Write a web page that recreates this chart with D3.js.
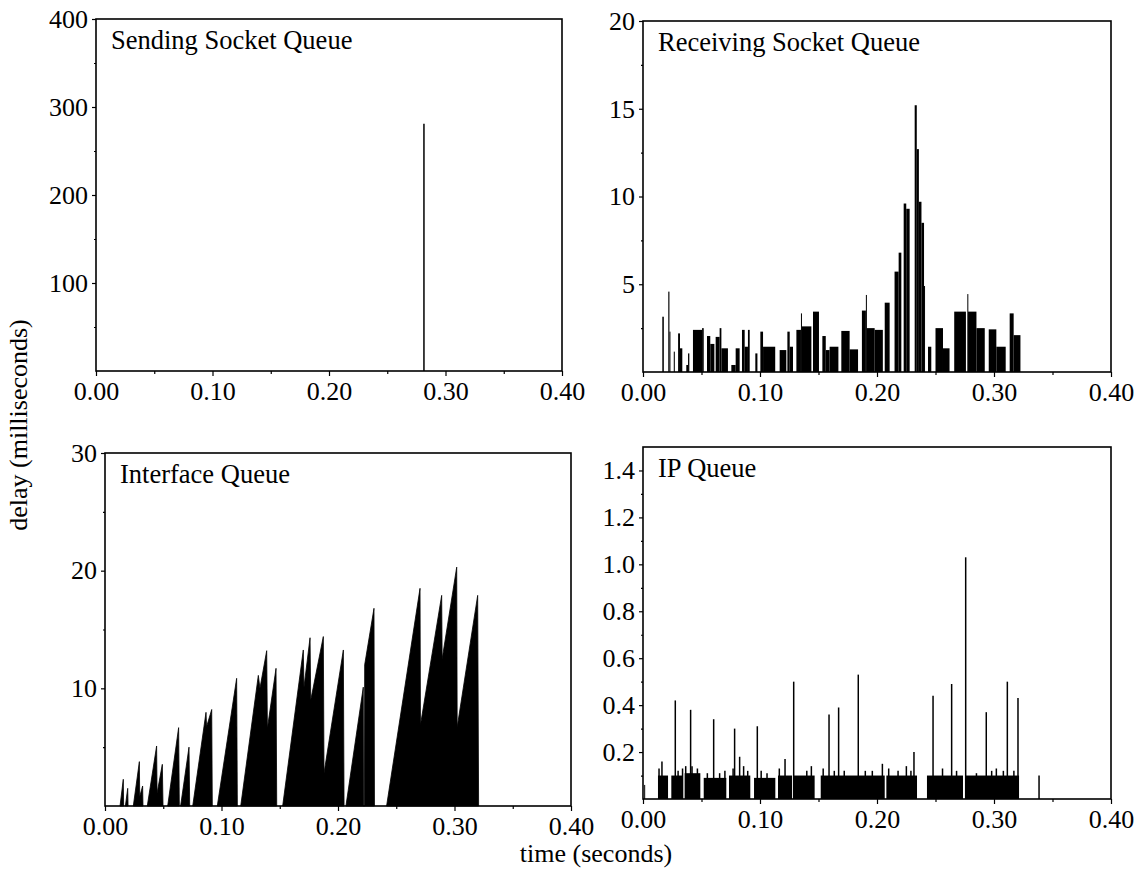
<!DOCTYPE html>
<html>
<head>
<meta charset="utf-8">
<script src="https://cdn.jsdelivr.net/npm/d3@7"></script>
<style>
  body { margin: 0; background: #fff; }
  svg { display: block; }
</style>
</head>
<body>
<svg id="chart" width="1138" height="869"></svg>
<script>
// shared x axis (seconds)
const xTicks = [0, 0.1, 0.2, 0.3, 0.4];
const xMinorTicks = [0.05, 0.15, 0.25, 0.35];

// y ticks per panel
const sendTicks = [100, 200, 300, 400];
const sendMinor = [50, 150, 250, 350];
const recvTicks = [5, 10, 15, 20];
const recvMinor = [2.5, 7.5, 12.5, 17.5];
const ifaceTicks = [10, 20, 30];
const ifaceMinor = [5, 15, 25];
const ipTicks = [0.2, 0.4, 0.6, 0.8, 1.0, 1.2, 1.4];
const ipMinor = [0.1, 0.3, 0.5, 0.7, 0.9, 1.1, 1.3];

// sending socket queue: [time, delay]
const sendSpikes = [[0.2815, 281]];

// receiving socket queue: [t start, t end, delay]
const recvBars = [
  [0.0165, 0.0178, 3.15], [0.0216, 0.0226, 4.58], [0.0226, 0.0232, 2.3],
  [0.0263, 0.0272, 1.16], [0.0300, 0.0316, 2.2], [0.0316, 0.0336, 1.35],
  [0.0370, 0.0385, 0.4], [0.0385, 0.0396, 1.06], [0.0427, 0.0505, 2.4],
  [0.0505, 0.0519, 2.5], [0.0547, 0.0575, 2.05], [0.0575, 0.0610, 1.6],
  [0.0621, 0.0655, 2.0], [0.0655, 0.0670, 2.5], [0.0670, 0.0726, 1.35],
  [0.0755, 0.0792, 0.4], [0.0792, 0.0826, 1.35], [0.0846, 0.0869, 2.4],
  [0.0869, 0.0897, 1.44], [0.0897, 0.0912, 2.4], [0.0960, 0.0978, 1.06],
  [0.1003, 0.1026, 2.3], [0.1026, 0.1130, 1.44], [0.1168, 0.1225, 1.25],
  [0.1234, 0.1254, 2.3], [0.1254, 0.1282, 1.44], [0.1311, 0.1350, 2.4],
  [0.1350, 0.1358, 3.34], [0.1358, 0.1439, 2.6], [0.1453, 0.1504, 3.44],
  [0.1533, 0.1562, 2.05], [0.1562, 0.1595, 1.25], [0.1595, 0.1670, 1.44],
  [0.1695, 0.1766, 2.34], [0.1766, 0.1838, 1.29], [0.1871, 0.1905, 3.5],
  [0.1905, 0.1912, 4.39], [0.1912, 0.1980, 2.5], [0.1980, 0.2050, 2.4],
  [0.2066, 0.2108, 3.95], [0.2150, 0.2185, 5.72], [0.2185, 0.2208, 6.8],
  [0.2228, 0.2250, 9.6], [0.2250, 0.2279, 9.3], [0.2322, 0.2340, 15.2],
  [0.2340, 0.2358, 12.7], [0.2358, 0.2380, 9.7], [0.2380, 0.2402, 8.5],
  [0.2402, 0.2410, 4.9], [0.2436, 0.2464, 1.44], [0.2500, 0.2564, 2.5],
  [0.2564, 0.2620, 1.35], [0.2660, 0.2760, 3.44], [0.2772, 0.2778, 4.44],
  [0.2778, 0.2850, 3.44], [0.2850, 0.2921, 2.5], [0.2955, 0.3020, 2.43],
  [0.3020, 0.3100, 1.44], [0.3134, 0.3168, 3.34], [0.3168, 0.3226, 2.1]
];

// interface queue: outline of each sawtooth burst, [time, delay]
const ifaceBursts = [
  [[0.0129, 0], [0.0157, 2.27], [0.0160, 0]],
  [[0.0175, 0], [0.0195, 1.5], [0.0198, 0]],
  [[0.0243, 0], [0.0295, 3.77], [0.0298, 0.8], [0.0323, 1.7], [0.0326, 0]],
  [[0.0363, 0], [0.0443, 5.1], [0.0447, 1.08], [0.0492, 3.54], [0.0498, 0]],
  [[0.0538, 0], [0.0632, 6.66], [0.0638, 0]],
  [[0.0649, 0], [0.0721, 5.0], [0.0727, 0]],
  [[0.0753, 0], [0.0867, 7.96], [0.0872, 6.74], [0.0916, 8.2], [0.0921, 0]],
  [[0.0964, 0], [0.1130, 10.85], [0.1136, 0]],
  [[0.1165, 0], [0.1316, 11.1], [0.1330, 10.0], [0.1388, 13.2], [0.1394, 6.6], [0.1468, 11.7], [0.1474, 0]],
  [[0.1525, 0], [0.1702, 13.26], [0.1708, 10.1], [0.1760, 14.3], [0.1766, 9.0], [0.1874, 14.4], [0.1880, 2.8], [0.2046, 13.26], [0.2052, 0]],
  [[0.2068, 0], [0.2217, 10.1], [0.2219, 0], [0.2227, 0], [0.2229, 12.0], [0.2309, 16.8], [0.2313, 0]],
  [[0.2417, 0], [0.2704, 18.5], [0.2708, 6.9], [0.2890, 17.9], [0.2894, 12.5], [0.3019, 20.3], [0.3023, 6.7], [0.3199, 17.9], [0.3207, 0]]
];

// IP queue: dense low blocks [t start, t end, delay] and single spikes [time, delay]
const ipBlocks = [
  [0.0010, 0.0018, 0.06], [0.0128, 0.0214, 0.10], [0.0242, 0.0342, 0.10],
  [0.0356, 0.0490, 0.11], [0.0519, 0.0712, 0.09], [0.0735, 0.0917, 0.10],
  [0.0949, 0.1131, 0.09], [0.1154, 0.1274, 0.10], [0.1282, 0.1467, 0.10],
  [0.1519, 0.2066, 0.10], [0.2080, 0.2342, 0.10], [0.2427, 0.2735, 0.10],
  [0.2758, 0.3214, 0.10]
];
const ipSpikes = [
  [0.0137, 0.13], [0.0162, 0.16], [0.0276, 0.42], [0.0300, 0.12], [0.0338, 0.13],
  [0.0365, 0.14], [0.0407, 0.38], [0.0419, 0.14], [0.0465, 0.13], [0.0550, 0.11],
  [0.0604, 0.34], [0.0655, 0.11], [0.0700, 0.12], [0.0770, 0.13], [0.0783, 0.30],
  [0.0826, 0.18], [0.0860, 0.14], [0.0895, 0.12], [0.0977, 0.31], [0.1010, 0.12],
  [0.1060, 0.11], [0.1165, 0.13], [0.1214, 0.17], [0.1288, 0.50], [0.1400, 0.12],
  [0.1439, 0.14], [0.1540, 0.13], [0.1590, 0.36], [0.1635, 0.12], [0.1672, 0.39],
  [0.1720, 0.12], [0.1840, 0.53], [0.1900, 0.12], [0.1960, 0.12], [0.2046, 0.15],
  [0.2100, 0.13], [0.2180, 0.12], [0.2251, 0.14], [0.2290, 0.12], [0.2316, 0.20],
  [0.2479, 0.44], [0.2560, 0.13], [0.2638, 0.49], [0.2680, 0.12], [0.2758, 1.03],
  [0.2850, 0.11], [0.2934, 0.37], [0.2980, 0.12], [0.3020, 0.13], [0.3080, 0.12],
  [0.3114, 0.50], [0.3170, 0.12], [0.3205, 0.43], [0.3385, 0.10]
];

const FONT = '"Liberation Serif", "Times New Roman", serif';
const svg = d3.select('#chart');

function drawPanel(p) {
  const g = svg.append('g').attr('transform', `translate(${p.left},${p.top})`);
  const x = d3.scaleLinear().domain([0, 0.4]).range([0, p.width]);
  const y = d3.scaleLinear().domain([0, p.yMax]).range([p.height, 0]);

  p.draw(g, x, y);

  // frame
  g.append('rect')
    .attr('width', p.width).attr('height', p.height)
    .attr('fill', 'none').attr('stroke', '#000').attr('stroke-width', 1.6);

  // x axis, major + minor ticks
  const xa = g.append('g').attr('transform', `translate(0,${p.height})`)
    .call(d3.axisBottom(x).tickValues(xTicks).tickSize(5).tickFormat(d3.format('.2f')));
  g.append('g').attr('transform', `translate(0,${p.height})`)
    .call(d3.axisBottom(x).tickValues(xMinorTicks).tickSize(3).tickFormat(''));
  xa.selectAll('text').attr('y', 29).attr('dy', null);

  // y axis
  g.append('g')
    .call(d3.axisLeft(y).tickValues(p.yTicks).tickSize(4).tickPadding(4).tickFormat(p.yFormat));
  g.append('g')
    .call(d3.axisLeft(y).tickValues(p.yMinor).tickSize(2).tickFormat(''));

  g.selectAll('.domain').remove();
  g.selectAll('.tick line').attr('stroke-width', 1.2);
  g.selectAll('.tick text').attr('font-family', FONT).attr('font-size', 26).attr('fill', '#000');

  g.append('text')
    .attr('x', 15).attr('y', 30)
    .attr('font-family', FONT).attr('font-size', 26.5)
    .text(p.title);
}

const spikeLine = (g, x, y, data) => {
  g.append('g').selectAll('line').data(data).enter()
    .append('line')
    .attr('x1', (d) => x(d[0])).attr('x2', (d) => x(d[0]))
    .attr('y1', y(0)).attr('y2', (d) => y(d[1]))
    .attr('stroke', '#000').attr('stroke-width', 1.5);
};

const blockRects = (g, x, y, data) => {
  g.append('g').selectAll('rect').data(data).enter()
    .append('rect')
    .attr('x', (d) => x(d[0]))
    .attr('width', (d) => Math.max(1, x(d[1]) - x(d[0])))
    .attr('y', (d) => y(d[2]))
    .attr('height', (d) => y(0) - y(d[2]))
    .attr('fill', '#000');
};

const panels = [
  {
    title: 'Sending Socket Queue', left: 96, top: 19, width: 466, height: 352,
    yMax: 400, yTicks: sendTicks, yMinor: sendMinor, yFormat: d3.format('d'),
    draw: (g, x, y) => spikeLine(g, x, y, sendSpikes)
  },
  {
    title: 'Receiving Socket Queue', left: 643, top: 21, width: 468, height: 351,
    yMax: 20, yTicks: recvTicks, yMinor: recvMinor, yFormat: d3.format('d'),
    draw: (g, x, y) => blockRects(g, x, y, recvBars)
  },
  {
    title: 'Interface Queue', left: 105, top: 453, width: 466, height: 353,
    yMax: 30, yTicks: ifaceTicks, yMinor: ifaceMinor, yFormat: d3.format('d'),
    draw: (g, x, y) => {
      const line = d3.line().x((d) => x(d[0])).y((d) => y(d[1]));
      g.append('g').selectAll('path').data(ifaceBursts).enter()
        .append('path')
        .attr('d', (d) => line(d) + 'Z')
        .attr('fill', '#000').attr('stroke', '#000').attr('stroke-width', 0.8);
    }
  },
  {
    title: 'IP Queue', left: 643, top: 447, width: 468, height: 352,
    yMax: 1.5, yTicks: ipTicks, yMinor: ipMinor, yFormat: d3.format('.1f'),
    draw: (g, x, y) => {
      blockRects(g, x, y, ipBlocks);
      spikeLine(g, x, y, ipSpikes);
    }
  }
];

panels.forEach(drawPanel);

// shared axis titles
svg.append('text')
  .attr('transform', 'translate(27,425) rotate(-90)')
  .attr('text-anchor', 'middle')
  .attr('font-family', FONT).attr('font-size', 26)
  .text('delay (milliseconds)');

svg.append('text')
  .attr('x', 596).attr('y', 862)
  .attr('text-anchor', 'middle')
  .attr('font-family', FONT).attr('font-size', 26)
  .text('time (seconds)');
</script>
</body>
</html>
